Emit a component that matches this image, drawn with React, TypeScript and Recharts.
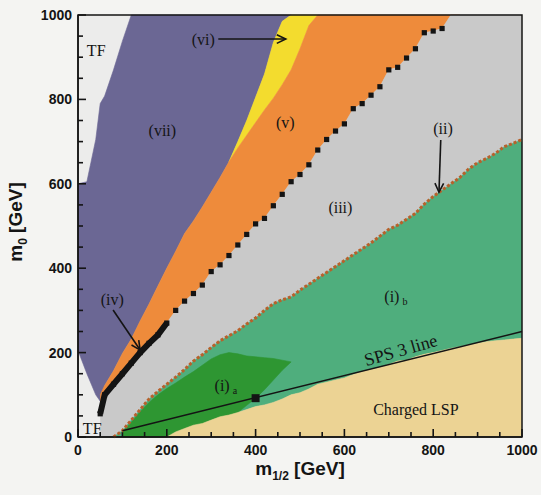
import React from 'react';
import {
  ComposedChart, Area, Line, XAxis, YAxis, CartesianGrid,
  ReferenceArea, ReferenceDot, ReferenceLine,
} from 'recharts';

const N = null;

// m_1/2 sample positions (GeV)
const m12 = [0, 20, 40, 50, 60, 80, 100, 120, 140, 160, 180, 200, 220, 240, 260, 280, 300, 320, 340, 360,
  380, 400, 420, 440, 460, 480, 500, 520, 540, 560, 580, 600, 620, 640, 660, 680, 700, 720, 740, 760,
  780, 800, 820, 840, 860, 880, 900, 920, 940, 960, 980, 1000];

// upper edge of (vii): border with the TF strip at top left
const tfEdge = [600, 605, 705, 790, 808, 870, 938, 1000, 1000, 1000,
  1000, 1000, 1000, 1000, 1000, 1000, 1000, 1000, 1000, 1000,
  1000, 1000, 1000, 1000, 1000, 1000, N, N, N, N,
  N, N, N, N, N, N, N, N, N, N,
  N, N, N, N, N, N, N, N, N, N, N, N];

// lower edge of (vii) over the TF corner
const vEdge = [205, 150, 100, 85, N, N, N, N, N, N,
  N, N, N, N, N, N, N, N, N, N,
  N, N, N, N, N, N, N, N, N, N,
  N, N, N, N, N, N, N, N, N, N,
  N, N, N, N, N, N, N, N, N, N, N, N];

// top of (vi), yellow
const yellowTop = [N, N, N, N, N, N, N, N, N, N,
  N, N, N, N, N, N, N, N, 652, 700,
  750, 805, 860, 935, 985, 1000, 1000, 1000, 1000, N,
  N, N, N, N, N, N, N, N, N, N,
  N, N, N, N, N, N, N, N, N, N, N, N];

// top of (v), orange
const orangeTop = [N, N, N, 100, 122, 157, 198, 232, 275, 315,
  358, 400, 440, 482, 512, 545, 580, 615, 652, 685,
  715, 745, 775, 803, 835, 870, 920, 975, 1000, 1000,
  1000, 1000, 1000, 1000, 1000, 1000, 1000, 1000, 1000, 1000,
  1000, 1000, 1000, 1000, 1000, N, N, N, N, N, N, N];

// (iv) line: border between (v) and (iii)
const ivEdge = [N, N, N, 55, 100, 125, 150, 175, 200, 222,
  242, 270, 300, 322, 340, 360, 392, 408, 430, 455,
  480, 505, 518, 548, 575, 605, 622, 645, 680, 705,
  725, 742, 778, 790, 810, 830, 870, 876, 898, 920,
  958, 962, 968, 1000, 1000, 1000, 1000, 1000, 1000, 1000, 1000, 1000];

// (ii) line: border between (iii) and (i)
const iiEdge = [N, N, N, N, N, 0, 15, 40, 65, 90,
  108, 125, 142, 160, 180, 195, 212, 228, 240, 252,
  268, 282, 300, 316, 325, 332, 348, 362, 376, 390,
  404, 418, 432, 446, 460, 476, 492, 502, 516, 530,
  552, 570, 585, 600, 615, 635, 650, 660, 672, 688, 696, 705];

// top of the charged LSP region
const lspEdge = [N, N, N, N, N, N, N, N, N, N,
  N, 0, 12, 20, 28, 32, 40, 48, 52, 58,
  65, 72, 76, 82, 90, 100, 105, 114, 125, 130,
  135, 140, 148, 155, 160, 165, 172, 180, 182, 190,
  196, 200, 205, 210, 214, 218, 222, 226, 228, 230, 232, 234];

// (i)a, dark green
const darkLo = [N, N, N, N, N, N, 0, 0, 0, 0,
  0, 0, 12, 20, 28, 32, 40, 48, 52, 58,
  75, 92, 112, 135, 158, 178, N, N, N, N,
  N, N, N, N, N, N, N, N, N, N,
  N, N, N, N, N, N, N, N, N, N, N, N];
const darkHi = [N, N, N, N, N, N, 12, 35, 60, 82,
  100, 115, 128, 142, 155, 170, 185, 195, 200, 197,
  192, 190, 188, 186, 182, 178, N, N, N, N,
  N, N, N, N, N, N, N, N, N, N,
  N, N, N, N, N, N, N, N, N, N, N, N];

const spsLine = [[100, 15], [1000, 250]];
const spsPoint = [400, 92];

const tickVals = [0, 50, 100, 150, 200, 250, 300, 350, 400, 450, 500, 550, 600, 650, 700, 750, 800, 850, 900, 950, 1000];

const rows = m12.map((x, i) => ({
  x,
  purple: tfEdge[i] == null ? null : [vEdge[i] ?? yellowTop[i] ?? orangeTop[i], tfEdge[i]],
  yellow: yellowTop[i] == null ? null : [orangeTop[i], yellowTop[i]],
  orange: orangeTop[i] == null ? null : [ivEdge[i], orangeTop[i]],
  grey: ivEdge[i] == null ? null : [iiEdge[i] ?? 0, ivEdge[i]],
  teal: iiEdge[i] == null ? null : [lspEdge[i] ?? 0, iiEdge[i]],
  dark: darkHi[i] == null ? null : [darkLo[i], darkHi[i]],
  tan: lspEdge[i] == null ? null : [0, lspEdge[i]],
  ii: iiEdge[i],
  iv: ivEdge[i] != null && ivEdge[i] < 1000 ? ivEdge[i] : null,
  ivDense: x <= 210 ? ivEdge[i] : null,
  sps: spsLine.find((p) => p[0] === x)?.[1] ?? null,
}));

const INK = '#141414';
const serif = '"Liberation Serif", "DejaVu Serif", serif';
const sans = '"Liberation Sans", Arial, sans-serif';

const XTick = ({ x, y, payload }: any) => {
  if (payload.value % 200 !== 0) return <g />;
  return (
    <text x={x} y={y + 18} textAnchor="middle" fontFamily={sans} fontWeight="bold" fontSize={14} fill={INK}>
      {payload.value}
    </text>
  );
};

const YTick = ({ x, y, payload }: any) => {
  if (payload.value % 200 !== 0) return <g />;
  return (
    <text x={x - 6} y={y + 5} textAnchor="end" fontFamily={sans} fontWeight="bold" fontSize={14} fill={INK}>
      {payload.value}
    </text>
  );
};

// plot frame with inward ticks; the rect spans the full 0..1000 domain on both axes
const Frame = (p: any) => {
  const { x, y, width, height } = p;
  if ([x, y, width, height].some((v) => v == null || Number.isNaN(v))) return <g />;
  const bottom = y + height;
  return (
    <g>
      <rect x={x} y={y} width={width} height={height} fill="none" stroke={INK} strokeWidth={1.5} />
      {tickVals.map((v) => {
        const len = v % 200 === 0 ? 8 : 5;
        const tx = x + (width * v) / 1000;
        const ty = bottom - (height * v) / 1000;
        return (
          <g key={v}>
            <line x1={tx} x2={tx} y1={bottom} y2={bottom - len} stroke={INK} strokeWidth={1.6} />
            <line x1={x} x2={x + len} y1={ty} y2={ty} stroke={INK} strokeWidth={1.6} />
          </g>
        );
      })}
    </g>
  );
};

const Square = (props: any) => {
  const { cx, cy, payload, index } = props;
  if (cx == null || cy == null || payload?.iv == null) return <g key={`sq-${index}`} />;
  return <rect key={`sq-${index}`} x={cx - 2.6} y={cy - 2.6} width={5.2} height={5.2} fill={INK} />;
};

const Arrow = (p: any) => {
  const { x1, y1, x2, y2 } = p;
  const a = Math.atan2(y2 - y1, x2 - x1);
  const h = 10;
  const s = 0.45;
  const ax = x2 - h * Math.cos(a - s);
  const ay = y2 - h * Math.sin(a - s);
  const bx = x2 - h * Math.cos(a + s);
  const by = y2 - h * Math.sin(a + s);
  return (
    <g>
      <line x1={x1} y1={y1} x2={x2} y2={y2} stroke={INK} strokeWidth={1.6} />
      <polyline points={`${ax},${ay} ${x2},${y2} ${bx},${by}`} fill="none" stroke={INK} strokeWidth={1.6} />
    </g>
  );
};

const note = (text: string, size = 16, sub?: string, rotate = 0) => (p: any) => (
  <text
    x={p.cx}
    y={p.cy}
    textAnchor="middle"
    dominantBaseline="central"
    fontFamily={serif}
    fontSize={size}
    fill={INK}
    transform={rotate ? `rotate(${rotate}, ${p.cx}, ${p.cy})` : undefined}
  >
    {text}
    {sub && <tspan dx={3} dy={5} fontSize={10}>{sub}</tspan>}
  </text>
);

export default function App() {
  return (
    <div style={{ width: 541, height: 495, background: '#f4f4f2' }}>
      <style>{'body { margin: 0; }'}</style>
      <ComposedChart width={541} height={495} data={rows} margin={{ top: 15, right: 19, bottom: 0, left: 0 }}>
        <CartesianGrid fill="#ececeb" stroke="none" horizontal={false} vertical={false} />
        <XAxis
          dataKey="x"
          type="number"
          domain={[0, 1000]}
          ticks={tickVals}
          interval={0}
          tickSize={0}
          tickMargin={0}
          tickLine={false}
          tick={<XTick />}
          height={58}
          axisLine={{ stroke: INK, strokeWidth: 1.5 }}
          label={{
            content: () => (
              <text x={300} y={475} textAnchor="middle" fontFamily={sans} fontWeight="bold" fontSize={19} fill={INK}>
                m<tspan dy={5} fontSize={12}>1/2</tspan><tspan dy={-5}> [GeV]</tspan>
              </text>
            ),
          }}
        />
        <YAxis
          type="number"
          domain={[0, 1000]}
          ticks={tickVals}
          interval={0}
          tickSize={0}
          tickMargin={0}
          tickLine={false}
          tick={<YTick />}
          width={78}
          axisLine={{ stroke: INK, strokeWidth: 1.5 }}
          label={{
            content: () => (
              <text x={22} y={222} transform="rotate(-90, 22, 222)" textAnchor="middle" fontFamily={sans} fontWeight="bold" fontSize={19} fill={INK}>
                m<tspan dy={5} fontSize={12}>0</tspan><tspan dy={-5}> [GeV]</tspan>
              </text>
            ),
          }}
        />

        <Area dataKey="purple" type="linear" fill="#6b6794" stroke="#6b6794" strokeWidth={0.6} fillOpacity={1} isAnimationActive={false} dot={false} activeDot={false} />
        <Area dataKey="yellow" type="linear" fill="#f3dc2e" stroke="#f3dc2e" strokeWidth={0.6} fillOpacity={1} isAnimationActive={false} dot={false} activeDot={false} />
        <Area dataKey="orange" type="linear" fill="#ee8b3b" stroke="#ee8b3b" strokeWidth={0.6} fillOpacity={1} isAnimationActive={false} dot={false} activeDot={false} />
        <Area dataKey="grey" type="linear" fill="#c9c9c9" stroke="#c9c9c9" strokeWidth={0.6} fillOpacity={1} isAnimationActive={false} dot={false} activeDot={false} />
        <Area dataKey="teal" type="linear" fill="#4fae7d" stroke="#4fae7d" strokeWidth={0.6} fillOpacity={1} isAnimationActive={false} dot={false} activeDot={false} />
        <Area dataKey="dark" type="linear" fill="#2e9632" stroke="#2e9632" strokeWidth={0.6} fillOpacity={1} isAnimationActive={false} dot={false} activeDot={false} />
        <Area dataKey="tan" type="linear" fill="#ecd394" stroke="#ecd394" strokeWidth={0.6} fillOpacity={1} isAnimationActive={false} dot={false} activeDot={false} />

        <Line dataKey="ii" type="linear" stroke="#b8612b" strokeWidth={3} strokeDasharray="3 2" dot={false} activeDot={false} isAnimationActive={false} />
        <Line dataKey="ivDense" type="linear" stroke={INK} strokeWidth={6} dot={false} activeDot={false} isAnimationActive={false} />
        <Line dataKey="iv" type="linear" stroke="none" dot={Square} activeDot={false} isAnimationActive={false} />
        <Line dataKey="sps" type="linear" stroke={INK} strokeWidth={1.6} connectNulls dot={false} activeDot={false} isAnimationActive={false} />

        <ReferenceDot x={spsPoint[0]} y={spsPoint[1]} shape={(p: any) => <rect x={p.cx - 4} y={p.cy - 4} width={8} height={8} fill={INK} />} />

        <ReferenceLine segment={[{ x: 316, y: 943 }, { x: 468, y: 943 }]} shape={Arrow} />
        <ReferenceLine segment={[{ x: 817, y: 704 }, { x: 813, y: 580 }]} shape={Arrow} />
        <ReferenceLine segment={[{ x: 79, y: 301 }, { x: 140, y: 206 }]} shape={Arrow} />

        <ReferenceDot x={41} y={917} shape={note('TF')} />
        <ReferenceDot x={32} y={19} shape={note('TF')} />
        <ReferenceDot x={190} y={727} shape={note('(vii)')} />
        <ReferenceDot x={282} y={943} shape={note('(vi)')} />
        <ReferenceDot x={467} y={746} shape={note('(v)')} />
        <ReferenceDot x={591} y={545} shape={note('(iii)')} />
        <ReferenceDot x={822} y={730} shape={note('(ii)')} />
        <ReferenceDot x={77} y={325} shape={note('(iv)')} />
        <ReferenceDot x={716} y={334} shape={note('(i)', 16, 'b')} />
        <ReferenceDot x={333} y={123} shape={note('(i)', 16, 'a')} />
        <ReferenceDot x={727} y={206} shape={note('SPS 3 line', 18, undefined, -16)} />
        <ReferenceDot x={761} y={66} shape={note('Charged LSP', 16)} />

        <ReferenceArea x1={0} x2={1000} y1={0} y2={1000} ifOverflow="visible" shape={Frame} />
      </ComposedChart>
    </div>
  );
}
